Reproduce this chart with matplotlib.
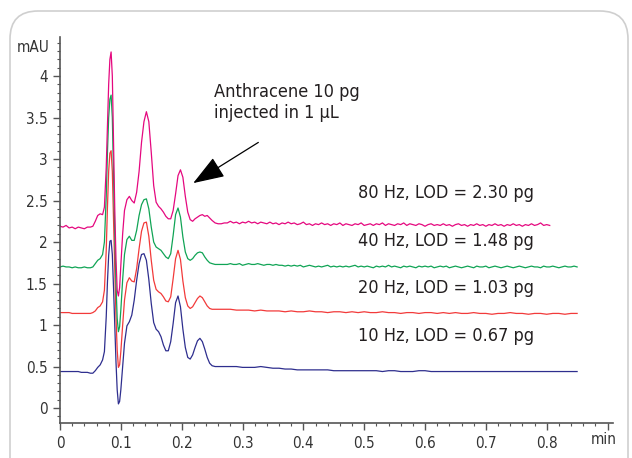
import numpy as np
import matplotlib
matplotlib.use('Agg')
import matplotlib.pyplot as plt
from matplotlib import font_manager
from matplotlib.patches import FancyBboxPatch
from matplotlib.ticker import MultipleLocator


def pick_narrow_font():
    # find a condensed face if one is installed
    for fam, stretch in [("Liberation Sans Narrow", "normal"),
                         ("DejaVu Sans", "condensed"),
                         ("DejaVu Sans Condensed", "normal")]:
        try:
            path = font_manager.findfont(
                font_manager.FontProperties(family=fam, stretch=stretch),
                fallback_to_default=False)
        except Exception:
            continue
        low = path.lower()
        if "narrow" in low or "condensed" in low:
            return path
    return None


narrow_path = pick_narrow_font()
plt.rcParams['font.family'] = ['Liberation Sans Narrow', 'DejaVu Sans']

# shared time grid for the start of the run (min)
t_pre = [0.000, 0.005, 0.010, 0.015, 0.020, 0.025, 0.030, 0.035, 0.040, 0.045]

# time grid through the peak cluster (min)
t_peak = [0.050, 0.054, 0.058, 0.062, 0.066, 0.070, 0.073, 0.076, 0.078, 0.080,
          0.082, 0.084, 0.086, 0.088, 0.090, 0.092, 0.094, 0.096, 0.098, 0.100,
          0.103, 0.106, 0.110, 0.114, 0.118, 0.122, 0.126, 0.130, 0.134, 0.138,
          0.142, 0.146, 0.150, 0.154, 0.158, 0.162, 0.166, 0.170, 0.174, 0.178,
          0.182, 0.186, 0.190, 0.194, 0.198, 0.202, 0.206, 0.210, 0.214, 0.218,
          0.222, 0.226, 0.230, 0.234, 0.238, 0.242, 0.246, 0.250, 0.255, 0.260,
          0.265, 0.270]

# 10 Hz (mAU)
hz10_pre = [0.44, 0.44, 0.44, 0.44, 0.44, 0.44, 0.44, 0.43, 0.43, 0.43]
hz10_peak = [0.42, 0.42, 0.45, 0.49, 0.52, 0.58, 0.68, 1.10, 1.52, 1.84,
             2.01, 2.02, 1.85, 1.45, 1.00, 0.56, 0.22, 0.05, 0.08, 0.22,
             0.50, 0.78, 0.99, 1.04, 1.12, 1.30, 1.54, 1.74, 1.85, 1.86,
             1.78, 1.55, 1.26, 1.03, 0.95, 0.92, 0.86, 0.76, 0.69, 0.69,
             0.80, 1.02, 1.27, 1.35, 1.22, 0.95, 0.73, 0.61, 0.59, 0.64,
             0.73, 0.81, 0.84, 0.80, 0.71, 0.61, 0.54, 0.51, 0.50, 0.50,
             0.50, 0.50]
hz10_tail = [0.50, 0.50, 0.49, 0.49, 0.49, 0.50, 0.49, 0.48, 0.48, 0.47,
             0.47, 0.46, 0.46, 0.46, 0.46, 0.46, 0.46, 0.45, 0.45, 0.45,
             0.45, 0.45, 0.45, 0.45, 0.45, 0.44, 0.45, 0.45, 0.44, 0.44,
             0.44, 0.45, 0.45, 0.44, 0.44, 0.44, 0.44, 0.44, 0.44, 0.44,
             0.44, 0.44, 0.44, 0.44, 0.44, 0.44, 0.44, 0.44, 0.44, 0.44,
             0.44, 0.44, 0.44, 0.44, 0.44, 0.44, 0.44, 0.44]

# 20 Hz
hz20_pre = [1.15, 1.15, 1.15, 1.15, 1.14, 1.14, 1.14, 1.14, 1.14, 1.14]
hz20_peak = [1.14, 1.15, 1.17, 1.21, 1.23, 1.28, 1.42, 1.90, 2.42, 2.85,
             3.07, 3.10, 2.85, 2.25, 1.65, 1.10, 0.70, 0.49, 0.52, 0.68,
             1.00, 1.30, 1.51, 1.57, 1.53, 1.52, 1.68, 1.92, 2.13, 2.23,
             2.24, 2.07, 1.78, 1.54, 1.43, 1.40, 1.38, 1.34, 1.29, 1.28,
             1.34, 1.56, 1.80, 1.90, 1.79, 1.53, 1.33, 1.23, 1.20, 1.22,
             1.27, 1.32, 1.35, 1.33, 1.28, 1.23, 1.20, 1.19, 1.19, 1.19,
             1.19, 1.19]
hz20_tail = [1.19, 1.18, 1.18, 1.18, 1.17, 1.18, 1.17, 1.17, 1.17, 1.16,
             1.17, 1.16, 1.16, 1.17, 1.16, 1.16, 1.15, 1.16, 1.16, 1.15,
             1.16, 1.15, 1.16, 1.15, 1.15, 1.16, 1.15, 1.15, 1.14, 1.15,
             1.15, 1.14, 1.15, 1.15, 1.14, 1.15, 1.14, 1.15, 1.14, 1.14,
             1.15, 1.14, 1.14, 1.13, 1.14, 1.14, 1.15, 1.14, 1.14, 1.13,
             1.14, 1.14, 1.13, 1.14, 1.14, 1.13, 1.14, 1.14]

# 40 Hz
hz40_pre = [1.70, 1.71, 1.70, 1.70, 1.69, 1.70, 1.69, 1.69, 1.70, 1.69]
hz40_peak = [1.69, 1.70, 1.74, 1.78, 1.80, 1.85, 2.00, 2.55, 3.08, 3.50,
             3.72, 3.77, 3.50, 2.80, 2.10, 1.50, 1.08, 0.92, 0.98, 1.18,
             1.55, 1.85, 2.03, 2.07, 2.02, 2.02, 2.14, 2.32, 2.45, 2.51,
             2.52, 2.40, 2.18, 2.00, 1.94, 1.92, 1.90, 1.86, 1.82, 1.80,
             1.86, 2.08, 2.33, 2.41, 2.30, 2.06, 1.88, 1.80, 1.78, 1.80,
             1.84, 1.87, 1.88, 1.87, 1.82, 1.78, 1.75, 1.74, 1.73, 1.73,
             1.73, 1.73]
hz40_tail = [1.73, 1.74, 1.73, 1.73, 1.74, 1.72, 1.73, 1.74, 1.73, 1.73,
             1.74, 1.73, 1.72, 1.73, 1.73, 1.72, 1.73, 1.72, 1.72, 1.71,
             1.72, 1.71, 1.72, 1.71, 1.72, 1.70, 1.71, 1.72, 1.71, 1.70,
             1.71, 1.70, 1.71, 1.72, 1.70, 1.71, 1.70, 1.71, 1.70, 1.71,
             1.70, 1.71, 1.72, 1.70, 1.71, 1.70, 1.71, 1.70, 1.69, 1.71,
             1.70, 1.71, 1.70, 1.72, 1.70, 1.71, 1.70, 1.69, 1.71, 1.70,
             1.71, 1.70, 1.69, 1.71, 1.70, 1.71, 1.70, 1.71, 1.69, 1.70,
             1.71, 1.70, 1.71, 1.69, 1.70, 1.71, 1.70, 1.69, 1.70, 1.71,
             1.70, 1.69, 1.71, 1.70, 1.70, 1.71, 1.69, 1.70, 1.71, 1.70,
             1.69, 1.70, 1.71, 1.70, 1.69, 1.70, 1.71, 1.70, 1.69, 1.70,
             1.71, 1.70, 1.70, 1.69, 1.71, 1.70, 1.70, 1.71, 1.70, 1.69,
             1.70, 1.71, 1.70, 1.70, 1.71, 1.70]

# 80 Hz
hz80_pre = [2.19, 2.18, 2.20, 2.17, 2.18, 2.16, 2.18, 2.17, 2.16, 2.18]
hz80_peak = [2.18, 2.19, 2.25, 2.32, 2.34, 2.33, 2.42, 2.90, 3.40, 3.90,
             4.20, 4.29, 4.00, 3.20, 2.40, 1.80, 1.42, 1.35, 1.45, 1.72,
             2.10, 2.38, 2.51, 2.55, 2.50, 2.47, 2.60, 2.85, 3.20, 3.45,
             3.57, 3.45, 3.08, 2.68, 2.48, 2.43, 2.40, 2.36, 2.31, 2.28,
             2.28, 2.38, 2.58, 2.80, 2.87, 2.78, 2.55, 2.36, 2.27, 2.25,
             2.28, 2.30, 2.32, 2.33, 2.31, 2.32, 2.29, 2.26, 2.23, 2.22,
             2.22, 2.23]
hz80_tail = [2.23, 2.25, 2.23, 2.24, 2.22, 2.24, 2.23, 2.25, 2.23, 2.24,
             2.22, 2.24, 2.23, 2.22, 2.24, 2.22, 2.23, 2.21, 2.23, 2.22,
             2.24, 2.22, 2.23, 2.21, 2.22, 2.24, 2.21, 2.22, 2.20, 2.22,
             2.21, 2.23, 2.21, 2.22, 2.20, 2.22, 2.21, 2.23, 2.20, 2.22,
             2.21, 2.20, 2.22, 2.21, 2.23, 2.20, 2.21, 2.22, 2.20, 2.22,
             2.21, 2.23, 2.20, 2.22, 2.21, 2.20, 2.22, 2.21, 2.23, 2.20,
             2.22, 2.21, 2.20, 2.22, 2.21, 2.19, 2.21, 2.22, 2.20, 2.21,
             2.20, 2.22, 2.20, 2.21, 2.19, 2.21, 2.22, 2.20, 2.21, 2.19,
             2.21, 2.20, 2.22, 2.20, 2.21, 2.19, 2.21, 2.20, 2.22, 2.20,
             2.21, 2.19, 2.21, 2.20, 2.22, 2.20, 2.21, 2.19, 2.21, 2.20,
             2.22, 2.20, 2.21, 2.23, 2.20, 2.21, 2.20]

labels = ["10 Hz, LOD = 0.67 pg", "20 Hz, LOD = 1.03 pg",
          "40 Hz, LOD = 1.48 pg", "80 Hz, LOD = 2.30 pg"]
label_y = [0.87, 1.45, 2.01, 2.59]
colors = ["#2E2E8E", "#F23A3A", "#10A455", "#E5087F"]

# (pre, peak, tail, tail start, tail step)
series = [
    (hz10_pre, hz10_peak, hz10_tail, 0.28, 0.01),
    (hz20_pre, hz20_peak, hz20_tail, 0.28, 0.01),
    (hz40_pre, hz40_peak, hz40_tail, 0.275, 0.005),
    (hz80_pre, hz80_peak, hz80_tail, 0.275, 0.005),
]


def font(size):
    # condensed face if found, otherwise a slightly smaller regular face
    if narrow_path is not None:
        return dict(fontproperties=font_manager.FontProperties(fname=narrow_path, size=size))
    return dict(family="DejaVu Sans", fontsize=size * 0.85)


big = font(13)
small = font(11)

fig = plt.figure(figsize=(6.32, 4.58), dpi=100)

# rounded frame around the whole graphic (pixel coords)
frame = FancyBboxPatch((10, -30), 618, 477, boxstyle="round,pad=0,rounding_size=28",
                       transform=None, facecolor="none", edgecolor="#cfcfcf", lw=1.2)
fig.add_artist(frame)

ax = fig.add_axes([60 / 632, 35 / 458, 553 / 632, 386 / 458])

for (pre, peak, tail, t0, dt), col in zip(series, colors):
    t_tail = t0 + dt * np.arange(len(tail))
    t = np.concatenate([t_pre, t_peak, t_tail])
    y = np.concatenate([pre, peak, tail])
    ax.plot(t, y, color=col, lw=0.9)

for txt, yy in zip(labels, label_y):
    ax.text(0.49, yy, txt, color="#231F20", va="center", ha="left", **big)

ax.text(0.253, 3.68, "Anthracene 10 pg\ninjected in 1 \u00b5L",
        color="#231F20", va="center", ha="left", linespacing=1.2, **big)
ax.annotate("", xy=(0.219, 2.71), xytext=(0.326, 3.20),
            arrowprops=dict(arrowstyle="-|>,head_length=1.4,head_width=0.5",
                            mutation_scale=14, color="black", lw=0.9,
                            shrinkA=0, shrinkB=0))

ax.set_xlim(0, 0.909)
ax.set_ylim(-0.18, 4.47)

ax.set_xticks(np.arange(0, 0.95, 0.1))
ax.set_yticks(np.arange(0, 4.01, 0.5))
ax.set_xticklabels(["0", "0.1", "0.2", "0.3", "0.4", "0.5", "0.6", "0.7", "0.8", ""],
                   color="#333333", **small)
ax.set_yticklabels(["0", "0.5", "1", "1.5", "2", "2.5", "3", "3.5", "4"],
                   color="#333333", **small)
ax.xaxis.set_minor_locator(MultipleLocator(0.02))
ax.yaxis.set_minor_locator(MultipleLocator(0.1))
ax.tick_params(which="major", direction="out", length=5, width=1, color="#555555", pad=4)
ax.tick_params(which="minor", direction="out", length=2.5, width=0.8, color="#555555")

for side in ["top", "right"]:
    ax.spines[side].set_visible(False)
for side in ["left", "bottom"]:
    ax.spines[side].set_color("#555555")
    ax.spines[side].set_linewidth(1.2)

fig.text(50 / 632, 1 - 47 / 458, "mAU", color="#333333", ha="right", va="center", **small)
fig.text(604 / 632, 1 - 440 / 458, "min", color="#333333", ha="center", va="center", **small)

fig.savefig("out.png", dpi=100)
plt.close()
